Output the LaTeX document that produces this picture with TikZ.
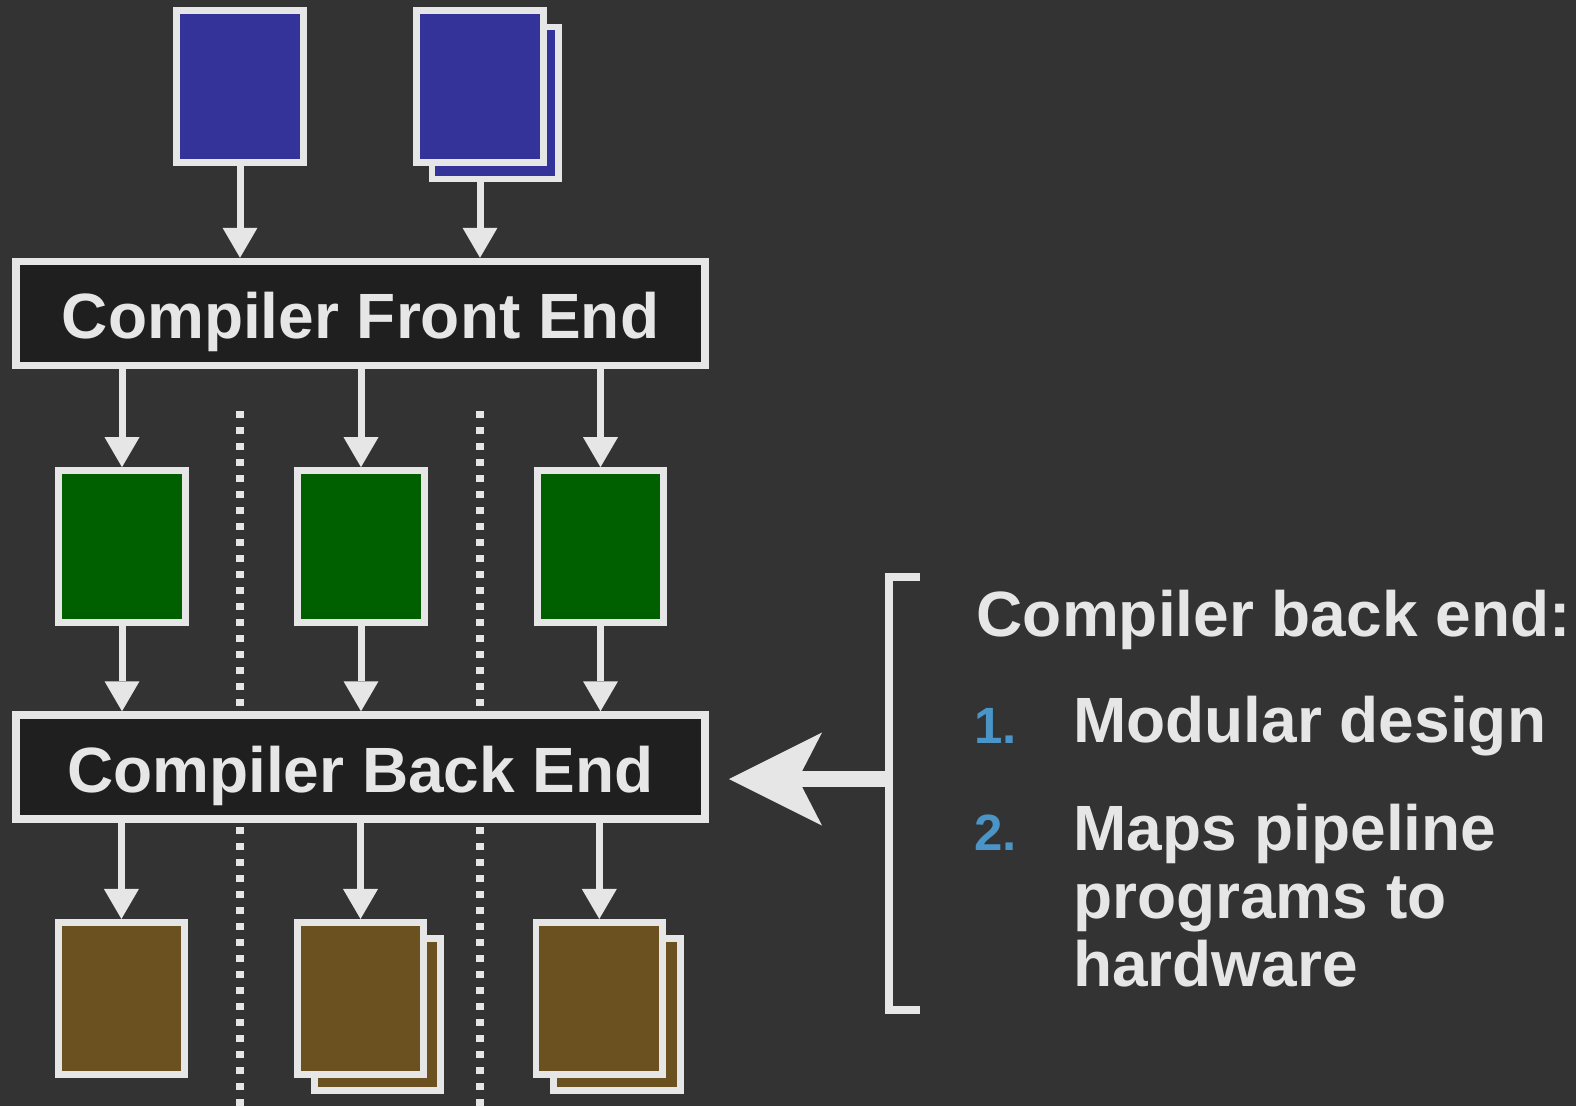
\documentclass[tikz,border=0pt]{standalone}
\usepackage{fontspec}
\setmainfont{Liberation Sans}
\usetikzlibrary{arrows.meta}
\definecolor{bg}{HTML}{333333}
\definecolor{fg}{HTML}{E6E6E6}
\definecolor{blu}{HTML}{333399}
\definecolor{grn}{HTML}{006000}
\definecolor{brn}{HTML}{6B5020}
\definecolor{dark}{HTML}{1F1F1F}
\definecolor{num}{HTML}{4A94C8}
\begin{document}
\begin{tikzpicture}[x=1pt,y=-1pt,
  doc/.style={draw=fg, line width=6.7pt, minimum width=126.5pt, minimum height=152pt, inner sep=0pt},
  stage/.style={draw=fg, fill=dark, line width=7.5pt, minimum width=689pt, minimum height=104pt, inner sep=0pt,
    text=fg, font=\fontsize{64}{70}\selectfont\bfseries, text height=50pt, text depth=0pt},
  flow/.style={draw=fg, line width=7pt, -{Triangle[width=35pt,length=30pt,line width=0pt]}},
  sep/.style={draw=fg, line width=7.5pt, dash pattern=on 7pt off 9pt},
  big/.style={text=fg, font=\fontsize{64}{70}\selectfont\bfseries, anchor=base west, inner sep=0pt},
  numb/.style={text=num, font=\fontsize{51}{56}\selectfont\bfseries, anchor=base west, inner sep=0pt}]
\fill[bg] (0,0) rectangle (1576,1106);
\useasboundingbox (0,0) rectangle (1576,1106);
% separators
\draw[sep] (240,411) -- (240,1110);
\draw[sep] (480,411) -- (480,1110);
% top documents
\node[doc, fill=blu] (b1) at (240,86.7) {};
\node[doc, fill=blu] (b2b) at (495.2,103) {};
\node[doc, fill=blu] (b2) at (480,86.7) {};
% stages
\node[stage] (fe) at (360.5,313.5) {Compiler Front End};
\node[stage] (be) at (360.5,767) {Compiler Back End};
% intermediate
\node[doc, fill=grn] (g1) at (122,546.5) {};
\node[doc, fill=grn] (g2) at (361,546.5) {};
\node[doc, fill=grn] (g3) at (600.5,546.5) {};
% outputs
\node[doc, fill=brn] (o1) at (121.4,998.3) {};
\node[doc, fill=brn] (o2b) at (377.5,1014.5) {};
\node[doc, fill=brn] (o2) at (360.5,998.3) {};
\node[doc, fill=brn] (o3b) at (617,1014.5) {};
\node[doc, fill=brn] (o3) at (599.3,998.3) {};
% arrows
\draw[flow] (b1.south) -- (b1.south |- fe.north);
\draw[flow] (b2.center |- b2b.south) -- (b2.center |- fe.north);
\foreach \g in {g1,g2,g3}{
  \draw[flow] (\g.north |- fe.south) -- (\g.north);
  \draw[flow] (\g.south) -- (\g.south |- be.north);
}
\foreach \o in {o1,o2,o3}{
  \draw[flow] (\o.north |- be.south) -- (\o.north);
}
% bracket and arrow
\coordinate (bt) at (919.5,577);
\coordinate (bb) at (919.5,1010);
\coordinate (brk) at (889,779);
\coordinate (atip) at (729,779);
\draw[fg, line width=7.5pt] (bt) -- (889,577) -- (889,1010) -- (bb);
\draw[fg, line width=16pt, -{Stealth[length=93pt,width=93pt,inset=24pt,line width=0pt]}] (brk) -- (atip);
% text
\node[big] (t0) at (976.5,636) {Compiler back end:};
\node[numb] (n1) at (974,743) {1.};
\node[big] (t1) at (1073,742.7) {Modular design};
\node[numb] (n2) at (974,850) {2.};
\node[big] (t2) at (1073,850) {Maps pipeline};
\node[big] (t3) at (1073,918) {programs to};
\node[big] (t4) at (1073,986.7) {hardware};
\end{tikzpicture}
\end{document}
